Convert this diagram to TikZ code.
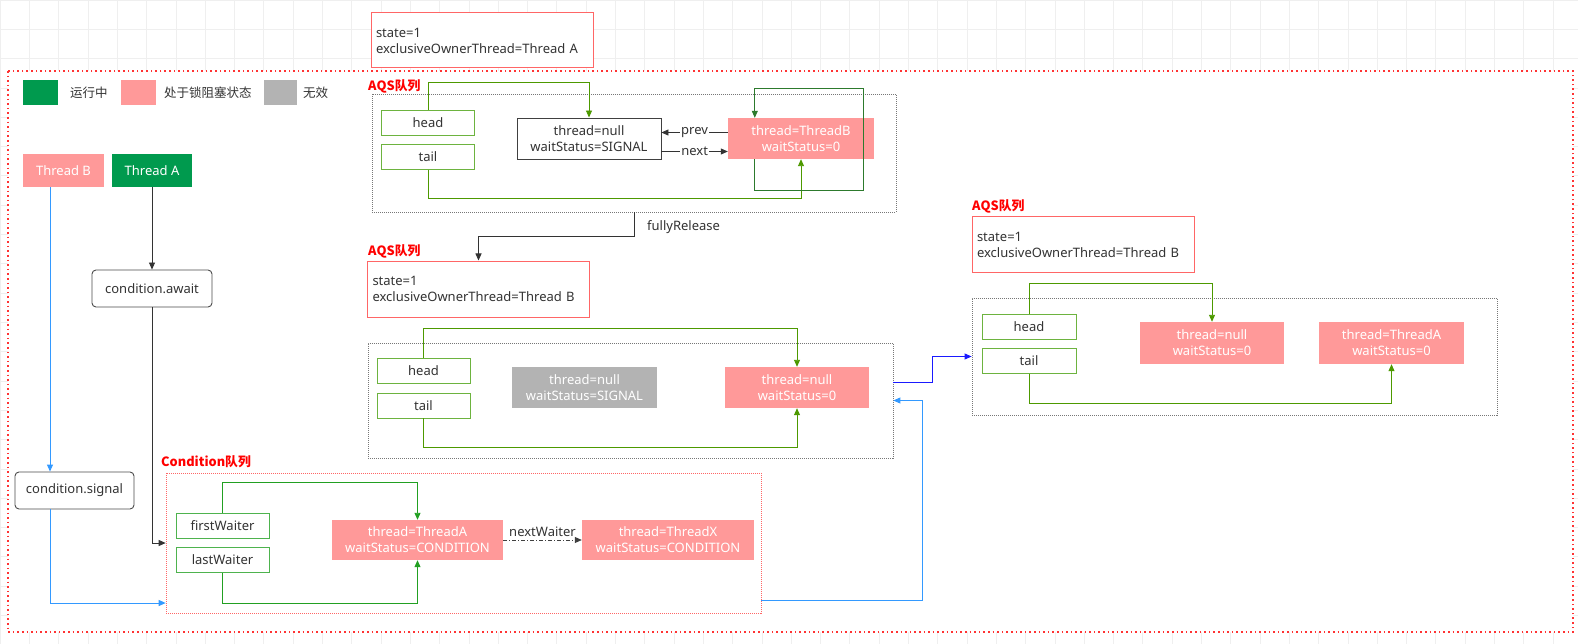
\documentclass[tikz,border=0pt]{standalone}
\usepackage{fontspec}
\setmainfont{Noto Sans}
\newfontfamily\cjk{Noto Sans CJK SC}
\usetikzlibrary{arrows.meta,calc}
\definecolor{pinkn}{HTML}{FF9999}
\definecolor{greenn}{HTML}{009A4E}
\definecolor{grayn}{HTML}{B3B3B3}
\definecolor{txt}{HTML}{333333}
\definecolor{gline}{HTML}{4D9900}
\definecolor{gbox}{HTML}{6DB33F}
\definecolor{gloop}{HTML}{2D7A2D}
\definecolor{cline}{HTML}{22A022}
\definecolor{redb}{HTML}{FF6666}
\definecolor{redl}{HTML}{FF0000}
\definecolor{redo}{HTML}{FF3333}
\definecolor{blueL}{HTML}{3399FF}
\definecolor{blueD}{HTML}{1A1AFF}
\definecolor{dotg}{HTML}{777777}
\definecolor{gridc}{HTML}{EFEFEF}
\tikzset{
  every node/.style={font=\fontsize{13}{16}\selectfont, text=txt},
  tip/.style={-{Triangle[length=7pt,width=6pt]}},
  ptrbox/.style={draw=gbox, line width=0.9pt, fill=white, minimum width=93pt, minimum height=25pt, inner sep=0pt},
  pinkbox/.style={fill=pinkn, text=white, minimum width=144pt, minimum height=41pt, align=center, inner sep=0pt},
  graybox/.style={fill=grayn, text=white, minimum width=145pt, minimum height=41pt, align=center, inner sep=0pt},
  statebox/.style={draw=redb, line width=1pt, fill=white, minimum width=222pt, minimum height=55pt, text width=212pt, align=left, inner sep=5pt},
  dotbox/.style={draw=dotg, line width=0.8pt, dash pattern=on 1pt off 1pt, inner sep=0pt},
  qlabel/.style={anchor=west, text=redl, font=\cjk\fontsize{12.8}{15}\selectfont\bfseries, inner sep=0pt},
  callbox/.style={draw=black!70, line width=0.9pt, rounded corners=4pt, fill=white, inner sep=0pt},
  gl/.style={draw=gline, line width=0.9pt, tip},
  cl/.style={draw=cline, line width=0.9pt, tip},
  dl/.style={draw=black!80, line width=0.8pt, tip},
}
\begin{document}
\begin{tikzpicture}[x=1pt,y=-1pt]
\useasboundingbox (0,0) rectangle (1578,644);
\fill[white] (0,0) rectangle (1578,644);
\draw[gridc, line width=0.6pt, step=29.3pt] (0,644) grid (1578,0);
\fill[white] (8,71) rectangle (1573,632);
\draw[redo, line width=1.6pt, dash pattern=on 1.6pt off 3pt] (8,71) rectangle (1573,632);

% top state box
\node[statebox] (st1) at (482,40.5) {state=1\\exclusiveOwnerThread=Thread A};

% legend
\node[fill=greenn, minimum width=35pt, minimum height=25pt, inner sep=0pt] (lg1) at (40.5,92.5) {};
\node[anchor=west, inner sep=0pt] (lt1) at (70,92.5) {\cjk\fontsize{12.5}{14}\selectfont 运行中};
\node[fill=pinkn, minimum width=35pt, minimum height=25pt, inner sep=0pt] (lg2) at (138.5,92.5) {};
\node[anchor=west, inner sep=0pt] (lt2) at (164,92.5) {\cjk\fontsize{12.5}{14}\selectfont 处于锁阻塞状态};
\node[fill=grayn, minimum width=33pt, minimum height=25pt, inner sep=0pt] (lg3) at (280,92.5) {};
\node[anchor=west, inner sep=0pt] (lt3) at (303,92.5) {\cjk\fontsize{12.5}{14}\selectfont 无效};

% threads
\node[fill=pinkn, text=white, minimum width=81pt, minimum height=33pt, inner sep=0pt] (tb) at (63.5,170.5) {Thread B};
\node[fill=greenn, text=white, minimum width=80pt, minimum height=33pt, inner sep=0pt] (ta) at (152,170.5) {Thread A};
\node[callbox, minimum width=120pt, minimum height=37pt] (aw) at (152,288.5) {condition.await};
\node[callbox, minimum width=119pt, minimum height=37pt] (sig) at (74.5,490.5) {condition.signal};
\coordinate (bx) at (50,0);

% AQS queue 1
\node[qlabel] (ql1) at (368,86) {AQS队列};
\node[dotbox, minimum width=524pt, minimum height=118pt] (aqs1) at (634,153) {};
\node[ptrbox] (head1) at (428,122.5) {head};
\node[ptrbox] (tail1) at (428,157) {tail};
\node[draw=black!75, line width=0.9pt, fill=white, minimum width=144pt, minimum height=41pt, align=center, inner sep=0pt] (null1) at (589,138.5) {thread=null\\waitStatus=SIGNAL};
\node[pinkbox, minimum width=146pt] (tb1) at (801,138.5) {thread=ThreadB\\waitStatus=0};

% fullyRelease + state box 2
\node[qlabel] (ql2) at (368,251) {AQS队列};
\node[statebox, minimum width=221pt, minimum height=56pt] (st2) at (478.5,289) {state=1\\exclusiveOwnerThread=Thread B};

% AQS queue 2
\node[dotbox, minimum width=525pt, minimum height=115pt] (aqs2) at (630.5,400.5) {};
\node[ptrbox] (head2) at (423.5,370.5) {head};
\node[ptrbox] (tail2) at (423.5,405.5) {tail};
\node[graybox] (g2) at (584.5,387.5) {thread=null\\waitStatus=SIGNAL};
\node[pinkbox] (n2) at (797,387.5) {thread=null\\waitStatus=0};

% AQS queue 3 (right)
\node[qlabel] (ql3) at (972,206) {AQS队列};
\node[statebox] (st3) at (1083,244.5) {state=1\\exclusiveOwnerThread=Thread B};
\node[dotbox, minimum width=525pt, minimum height=117pt] (aqs3) at (1234.5,356.5) {};
\node[ptrbox, minimum width=94pt] (head3) at (1029,326.5) {head};
\node[ptrbox, minimum width=94pt] (tail3) at (1029,361) {tail};
\node[pinkbox, minimum height=42pt] (n3a) at (1212,343) {thread=null\\waitStatus=0};
\node[pinkbox, minimum width=145pt, minimum height=42pt] (n3b) at (1391.5,343) {thread=ThreadA\\waitStatus=0};

% Condition queue
\node[qlabel] (ql4) at (161,462) {Condition队列};
\node[draw=redb, line width=0.7pt, dash pattern=on 1pt off 1pt, minimum width=595pt, minimum height=140pt, inner sep=0pt] (cond) at (463.5,543) {};
\node[ptrbox, draw=cline!80] (fw) at (222.5,525.5) {firstWaiter};
\node[ptrbox, draw=cline!80] (lw) at (222.5,560) {lastWaiter};
\node[pinkbox, minimum width=171pt, minimum height=40pt] (ca) at (417.5,540) {thread=ThreadA\\waitStatus=CONDITION};
\node[pinkbox, minimum width=172pt, minimum height=40pt] (cx) at (668,540) {thread=ThreadX\\waitStatus=CONDITION};

% ---- connectors ----
% threads
\draw[dl] (ta.south) -- (ta.south |- aw.north);
\draw[dl] (aw.south -| ta.south) |- (cond.west);
\draw[blueL, line width=0.9pt, -{Triangle[length=7pt,width=6pt]}] (tb.south -| bx) -- (sig.north -| bx);
\draw[blueL, line width=0.9pt, -{Triangle[length=7pt,width=6pt]}] (sig.south -| bx) |- ($(cond.west)+(0,60)$);

% queue 1
\draw[gl] (head1.north) -- ++(0,-27) -| (null1.north);
\draw[gl] (tail1.south) -- ++(0,28.5) -| (tb1.south);
\draw[gloop, line width=0.9pt, tip] ($(tb1.south west)+(27,0)$) -- ++(0,31) -- ++(109,0) -- ++(0,-102) -- ++(-109,0) -- ($(tb1.north west)+(27,0)$);
\draw[dl] ($(tb1.west)+(0,-6)$) -- node[fill=white, inner sep=1pt] (lprev) {prev} ($(null1.east)+(0,-6)$);
\draw[dl] ($(null1.east)+(0,13)$) -- node[fill=white, inner sep=1pt] (lnext) {next} ($(tb1.west)+(0,13)$);

% fullyRelease
\draw[dl] (aqs1.south) -- ++(0,24) -| (st2.north);
\node[anchor=west, inner sep=0pt] (lfr) at ($(aqs1.south)+(13,15)$) {fullyRelease};

% queue 2
\draw[gl] (head2.north) -- ++(0,-29) -| (n2.north);
\draw[gl] (tail2.south) -- ++(0,29) -| (n2.south);

% queue 3
\draw[gl] (head3.north) -- ++(0,-30) -| (n3a.north);
\draw[gl] (tail3.south) -- ++(0,29) -| (n3b.south);

% condition queue
\draw[cl] (fw.north) -- ++(0,-30) -| (ca.north);
\draw[cl] (lw.south) -- ++(0,30) -| (ca.south);
\draw[black!75, line width=0.8pt, dash pattern=on 4pt off 2pt on 1pt off 2pt, tip] (ca.east) -- node[above, inner sep=3pt] (lnw) {nextWaiter} (cx.west);

% between queues
\draw[blueD, line width=0.9pt, tip] ($(aqs2.east)+(0,-18.5)$) -- ++(39,0) |- (aqs3.west);
\draw[blueL, line width=0.9pt, tip] ($(cond.east)+(0,57)$) -- ++(161,0) |- (aqs2.east);
\end{tikzpicture}
\end{document}
